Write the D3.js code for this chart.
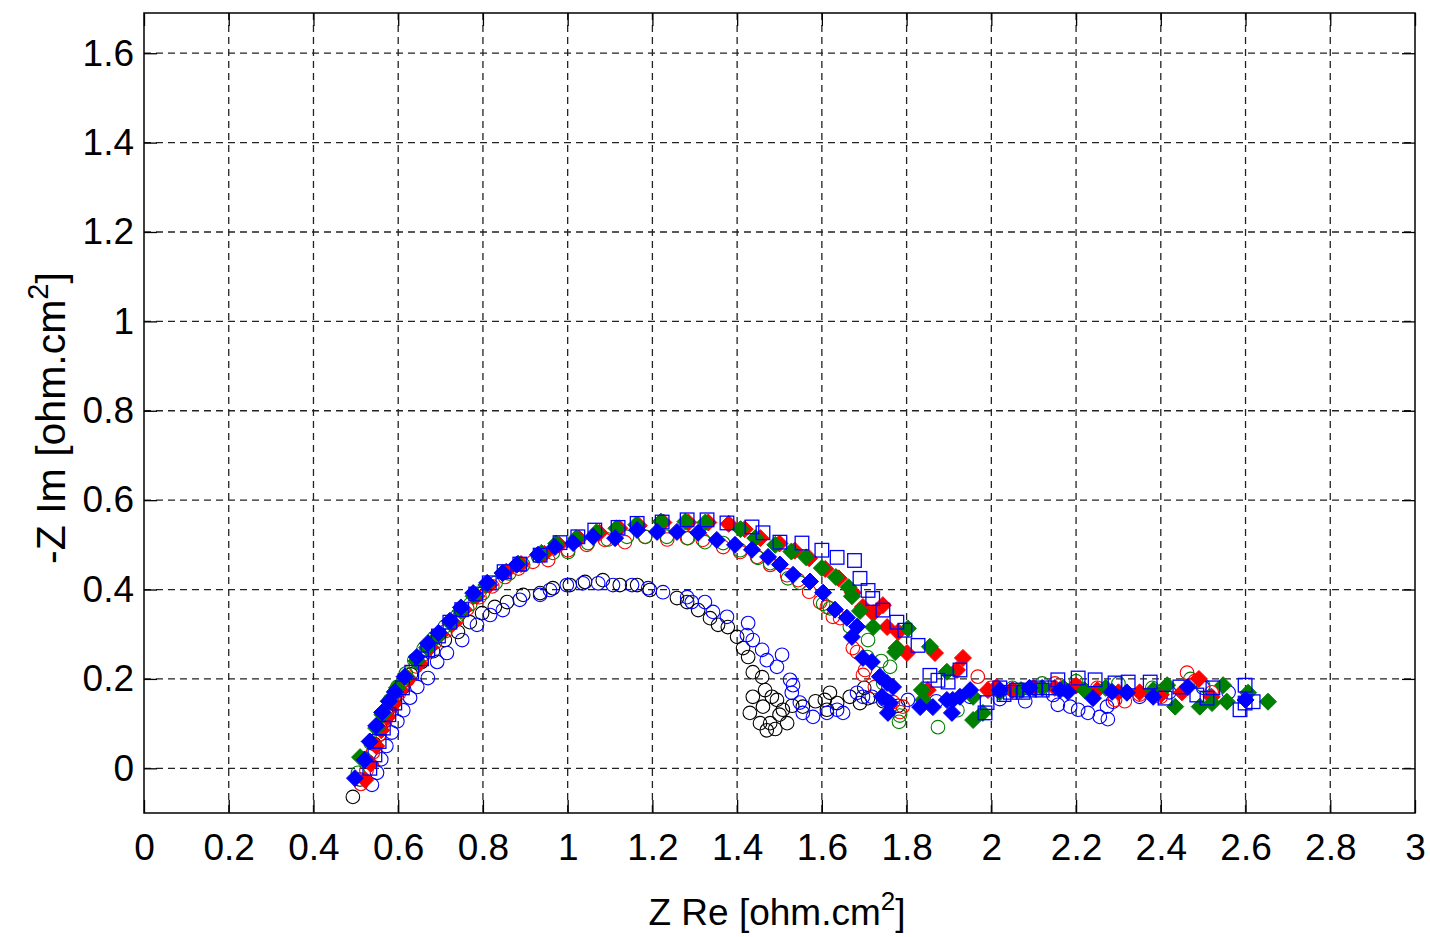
<!DOCTYPE html>
<html>
<head>
<meta charset="utf-8">
<script src="https://cdn.jsdelivr.net/npm/d3@7"></script>
<style>
  body { margin: 0; background: #fff; }
  text { font-family: "Liberation Sans", Arial, sans-serif; fill: #000; }
</style>
</head>
<body>
<script>
// axis ticks
var xTicks = [0, 0.2, 0.4, 0.6, 0.8, 1, 1.2, 1.4, 1.6, 1.8, 2, 2.2, 2.4, 2.6, 2.8, 3];
var yTicks = [0, 0.2, 0.4, 0.6, 0.8, 1, 1.2, 1.4, 1.6];

// series, [Z Re, -Z Im] in ohm.cm2
var blackCircles = [[0.493,-0.064],[0.510,-0.025],[0.528,0.015],[0.543,0.055],[0.558,0.090],[0.573,0.120],[0.590,0.150],[0.610,0.180],[0.630,0.210],[0.655,0.238],[0.682,0.262],[0.710,0.287],[0.741,0.305],[0.769,0.327],[0.798,0.347],[0.828,0.361],[0.857,0.372],[0.895,0.388],[0.935,0.392],[0.965,0.403],[1.005,0.410],[1.041,0.417],[1.083,0.421],[1.123,0.410],[1.164,0.410],[1.194,0.399],[1.258,0.381],[1.282,0.372],[1.308,0.354],[1.336,0.336],[1.355,0.321],[1.378,0.316],[1.400,0.294],[1.414,0.269],[1.426,0.249],[1.437,0.215],[1.459,0.204],[1.437,0.160],[1.430,0.124],[1.461,0.138],[1.454,0.101],[1.478,0.101],[1.482,0.160],[1.494,0.153],[1.508,0.131],[1.518,0.101],[1.466,0.175],[1.470,0.085],[1.490,0.088],[1.500,0.120],[1.530,0.140],[1.555,0.138],[1.585,0.150],[1.607,0.153],[1.619,0.169],[1.636,0.146],[1.612,0.131],[1.666,0.160],[1.690,0.146],[1.709,0.157],[1.700,0.180],[1.745,0.150],[1.780,0.140]];

var blueCircles = [[0.538,-0.037],[0.550,-0.010],[0.560,0.020],[0.572,0.050],[0.585,0.080],[0.598,0.105],[0.612,0.130],[0.628,0.158],[0.645,0.182],[0.670,0.202],[0.692,0.238],[0.715,0.258],[0.751,0.287],[0.786,0.321],[0.817,0.343],[0.847,0.354],[0.887,0.377],[0.935,0.388],[0.958,0.399],[0.998,0.410],[1.036,0.414],[1.072,0.414],[1.107,0.410],[1.152,0.410],[1.190,0.403],[1.225,0.394],[1.282,0.383],[1.293,0.372],[1.324,0.372],[1.343,0.350],[1.376,0.339],[1.426,0.325],[1.423,0.298],[1.437,0.287],[1.459,0.265],[1.470,0.242],[1.506,0.254],[1.494,0.227],[1.525,0.198],[1.532,0.186],[1.529,0.169],[1.548,0.147],[1.555,0.124],[1.579,0.115],[1.612,0.124],[1.636,0.131],[1.650,0.124],[1.683,0.169],[1.697,0.160],[1.718,0.160],[1.749,0.153],[1.803,0.153],[1.870,0.150],[1.950,0.160],[2.020,0.155],[2.080,0.150],[2.146,0.164],[2.157,0.142],[2.186,0.138],[2.205,0.131],[2.228,0.124],[2.256,0.115],[2.275,0.110],[2.273,0.138],[2.287,0.149],[2.350,0.160],[2.420,0.170],[2.500,0.180],[2.560,0.170]];

var redCircles = [[0.512,-0.035],[0.525,-0.005],[0.540,0.035],[0.555,0.075],[0.570,0.108],[0.585,0.138],[0.602,0.168],[0.622,0.198],[0.642,0.228],[0.663,0.256],[0.687,0.282],[0.712,0.307],[0.737,0.332],[0.763,0.357],[0.792,0.383],[0.822,0.407],[0.852,0.428],[0.884,0.447],[0.918,0.462],[0.954,0.466],[1.001,0.488],[1.045,0.500],[1.088,0.511],[1.135,0.506],[1.183,0.518],[1.235,0.512],[1.282,0.515],[1.319,0.511],[1.367,0.495],[1.407,0.484],[1.447,0.473],[1.478,0.455],[1.518,0.432],[1.544,0.421],[1.570,0.395],[1.596,0.372],[1.612,0.361],[1.626,0.339],[1.643,0.336],[1.673,0.269],[1.683,0.260],[1.702,0.220],[1.697,0.209],[1.725,0.182],[1.768,0.148],[1.784,0.126],[1.791,0.138],[1.968,0.205],[2.000,0.180],[2.050,0.175],[2.100,0.180],[2.150,0.190],[2.200,0.185],[2.250,0.180],[2.292,0.153],[2.315,0.150],[2.350,0.165],[2.400,0.160],[2.462,0.214],[2.480,0.195],[2.520,0.170]];

var greenCircles = [[0.505,-0.010],[0.520,0.022],[0.535,0.057],[0.550,0.092],[0.565,0.122],[0.580,0.152],[0.598,0.182],[0.618,0.212],[0.638,0.242],[0.660,0.267],[0.685,0.292],[0.710,0.317],[0.740,0.342],[0.770,0.367],[0.800,0.392],[0.830,0.415],[0.862,0.436],[0.895,0.455],[0.930,0.475],[0.965,0.482],[1.001,0.484],[1.048,0.504],[1.095,0.512],[1.140,0.518],[1.183,0.518],[1.234,0.518],[1.284,0.515],[1.324,0.506],[1.367,0.504],[1.407,0.488],[1.449,0.471],[1.478,0.459],[1.520,0.425],[1.548,0.415],[1.603,0.368],[1.619,0.358],[1.666,0.317],[1.709,0.287],[1.707,0.249],[1.740,0.240],[1.761,0.227],[1.745,0.190],[1.782,0.104],[1.784,0.118],[1.874,0.092],[1.920,0.130],[2.050,0.180],[2.120,0.190],[2.200,0.195],[2.300,0.190],[2.380,0.180],[2.470,0.200],[2.500,0.185]];

var redDiamonds = [[0.522,-0.026],[0.535,0.010],[0.548,0.050],[0.560,0.085],[0.575,0.115],[0.590,0.145],[0.605,0.175],[0.625,0.200],[0.650,0.235],[0.675,0.270],[0.700,0.300],[0.730,0.325],[0.755,0.355],[0.785,0.385],[0.815,0.410],[0.855,0.440],[0.890,0.457],[0.945,0.480],[0.980,0.500],[1.027,0.514],[1.075,0.527],[1.122,0.537],[1.168,0.543],[1.226,0.550],[1.285,0.550],[1.332,0.550],[1.380,0.547],[1.418,0.535],[1.455,0.515],[1.500,0.503],[1.536,0.487],[1.570,0.470],[1.608,0.446],[1.640,0.425],[1.673,0.393],[1.697,0.361],[1.721,0.347],[1.744,0.365],[1.754,0.316],[1.780,0.305],[1.777,0.269],[1.801,0.258],[1.867,0.258],[1.933,0.247],[1.919,0.220],[1.850,0.175],[1.992,0.175],[2.013,0.182],[2.050,0.175],[2.100,0.180],[2.150,0.180],[2.200,0.185],[2.250,0.175],[2.300,0.170],[2.350,0.170],[2.400,0.165],[2.450,0.170],[2.490,0.200],[2.520,0.160]];

var greenDiamonds = [[0.510,0.025],[0.533,0.060],[0.548,0.090],[0.563,0.120],[0.578,0.150],[0.597,0.180],[0.618,0.205],[0.643,0.240],[0.668,0.270],[0.693,0.295],[0.723,0.325],[0.748,0.352],[0.778,0.385],[0.808,0.410],[0.846,0.437],[0.883,0.458],[0.938,0.482],[0.973,0.503],[1.020,0.515],[1.068,0.528],[1.115,0.537],[1.162,0.545],[1.220,0.552],[1.278,0.552],[1.325,0.550],[1.408,0.535],[1.443,0.515],[1.490,0.500],[1.528,0.485],[1.563,0.472],[1.600,0.448],[1.633,0.428],[1.663,0.405],[1.671,0.385],[1.690,0.352],[1.721,0.316],[1.773,0.260],[1.777,0.269],[1.803,0.313],[1.855,0.272],[1.836,0.175],[1.839,0.153],[1.895,0.216],[1.957,0.160],[1.957,0.108],[1.980,0.124],[2.020,0.170],[2.070,0.175],[2.120,0.180],[2.170,0.180],[2.220,0.175],[2.270,0.180],[2.320,0.170],[2.382,0.175],[2.415,0.186],[2.434,0.138],[2.492,0.138],[2.521,0.146],[2.547,0.186],[2.556,0.149],[2.606,0.169],[2.653,0.149]];

var blueDiamonds = [[0.498,-0.022],[0.521,0.019],[0.533,0.060],[0.548,0.095],[0.562,0.125],[0.578,0.150],[0.592,0.171],[0.615,0.205],[0.644,0.249],[0.670,0.280],[0.695,0.303],[0.722,0.330],[0.748,0.360],[0.777,0.392],[0.810,0.415],[0.847,0.437],[0.880,0.456],[0.930,0.478],[0.970,0.495],[1.013,0.504],[1.060,0.518],[1.112,0.515],[1.164,0.533],[1.211,0.529],[1.258,0.529],[1.308,0.527],[1.352,0.511],[1.395,0.500],[1.435,0.489],[1.473,0.473],[1.501,0.456],[1.532,0.433],[1.572,0.418],[1.603,0.393],[1.631,0.355],[1.659,0.337],[1.683,0.317],[1.671,0.294],[1.697,0.247],[1.718,0.238],[1.737,0.205],[1.754,0.191],[1.768,0.182],[1.742,0.160],[1.761,0.146],[1.756,0.124],[1.832,0.137],[1.862,0.137],[1.895,0.153],[1.909,0.153],[1.907,0.124],[1.926,0.160],[1.950,0.175],[2.020,0.175],[2.090,0.180],[2.162,0.175],[2.181,0.171],[2.240,0.157],[2.285,0.171],[2.320,0.169],[2.382,0.160],[2.464,0.182],[2.600,0.153]];

var blueSquares = [[0.533,0.000],[0.545,0.030],[0.555,0.060],[0.565,0.090],[0.578,0.120],[0.592,0.146],[0.610,0.180],[0.632,0.215],[0.655,0.245],[0.670,0.265],[0.695,0.296],[0.722,0.327],[0.750,0.355],[0.783,0.390],[0.815,0.415],[0.850,0.440],[0.887,0.457],[0.935,0.477],[0.982,0.505],[1.024,0.518],[1.064,0.533],[1.119,0.539],[1.164,0.548],[1.223,0.551],[1.282,0.556],[1.329,0.556],[1.376,0.549],[1.435,0.540],[1.461,0.527],[1.501,0.506],[1.553,0.504],[1.600,0.488],[1.636,0.472],[1.677,0.465],[1.690,0.425],[1.709,0.398],[1.720,0.380],[1.744,0.354],[1.777,0.327],[1.796,0.309],[1.827,0.275],[1.855,0.208],[1.874,0.197],[1.898,0.193],[1.926,0.220],[1.990,0.147],[1.985,0.124],[2.020,0.180],[2.030,0.165],[2.045,0.170],[2.060,0.175],[2.075,0.170],[2.090,0.175],[2.105,0.180],[2.120,0.175],[2.135,0.180],[2.157,0.198],[2.205,0.202],[2.245,0.198],[2.292,0.191],[2.323,0.193],[2.375,0.193],[2.410,0.157],[2.445,0.182],[2.485,0.164],[2.509,0.157],[2.523,0.180],[2.587,0.131],[2.599,0.186],[2.599,0.146],[2.618,0.149]];

var W = 1430, H = 937;
var pLeft = 144, pRight = 1415, pTop = 13, pBottom = 813;

var svg = d3.select("body").append("svg")
    .attr("width", W)
    .attr("height", H);

var x = d3.scaleLinear().domain([0, 3]).range([pLeft, pRight]);
var y = d3.scaleLinear().domain([-0.1, 1.69]).range([pBottom, pTop]);
var fmt = d3.format("~g");

// dashed grid
svg.append("g").selectAll("line")
    .data(xTicks.filter(function(d) { return d > 0 && d < 3; }))
    .enter().append("line")
    .attr("x1", function(d) { return x(d); })
    .attr("x2", function(d) { return x(d); })
    .attr("y1", pTop).attr("y2", pBottom)
    .attr("stroke", "#222").attr("stroke-width", 1.3)
    .attr("stroke-dasharray", "7,5");

svg.append("g").selectAll("line")
    .data(yTicks)
    .enter().append("line")
    .attr("y1", function(d) { return y(d); })
    .attr("y2", function(d) { return y(d); })
    .attr("x1", pLeft).attr("x2", pRight)
    .attr("stroke", "#222").attr("stroke-width", 1.3)
    .attr("stroke-dasharray", "7,5");

// markers
function drawCircles(data, color) {
    svg.append("g").selectAll("circle")
        .data(data)
        .enter().append("circle")
        .attr("cx", function(d) { return x(d[0]); })
        .attr("cy", function(d) { return y(d[1]); })
        .attr("r", 6.8)
        .attr("fill", "none")
        .attr("stroke", color)
        .attr("stroke-width", 1.1);
}

function drawDiamonds(data, color) {
    var s = 8.5;
    svg.append("g").selectAll("path")
        .data(data)
        .enter().append("path")
        .attr("d", "M0," + (-s) + "L" + s + ",0L0," + s + "L" + (-s) + ",0Z")
        .attr("transform", function(d) { return "translate(" + x(d[0]) + "," + y(d[1]) + ")"; })
        .attr("fill", color)
        .attr("stroke", color)
        .attr("stroke-width", 1);
}

function drawSquares(data, color) {
    var h = 6.8;
    svg.append("g").selectAll("rect")
        .data(data)
        .enter().append("rect")
        .attr("x", function(d) { return x(d[0]) - h; })
        .attr("y", function(d) { return y(d[1]) - h; })
        .attr("width", 2 * h).attr("height", 2 * h)
        .attr("fill", "none")
        .attr("stroke", color)
        .attr("stroke-width", 1.3);
}

drawCircles(blackCircles, "#000000");
drawCircles(blueCircles, "#0000ff");
drawCircles(redCircles, "#ff0000");
drawCircles(greenCircles, "#008000");
drawDiamonds(redDiamonds, "#ff0000");
drawDiamonds(greenDiamonds, "#008000");
drawDiamonds(blueDiamonds, "#0000ff");
drawSquares(blueSquares, "#0000ff");

// axes with inward ticks
var tick = 13;
var gx = svg.append("g").attr("transform", "translate(0," + pBottom + ")")
    .call(d3.axisBottom(x).tickValues(xTicks).tickFormat(fmt)
        .tickSizeInner(-tick).tickSizeOuter(0).tickPadding(21));
var gxt = svg.append("g").attr("transform", "translate(0," + pTop + ")")
    .call(d3.axisTop(x).tickValues(xTicks).tickFormat("")
        .tickSizeInner(-tick).tickSizeOuter(0));
var gy = svg.append("g").attr("transform", "translate(" + pLeft + ",0)")
    .call(d3.axisLeft(y).tickValues(yTicks).tickFormat(fmt)
        .tickSizeInner(-tick).tickSizeOuter(0).tickPadding(10));
var gyr = svg.append("g").attr("transform", "translate(" + pRight + ",0)")
    .call(d3.axisRight(y).tickValues(yTicks).tickFormat("")
        .tickSizeInner(-tick).tickSizeOuter(0));

[gx, gxt, gy, gyr].forEach(function(g) {
    g.select(".domain").remove();
    g.selectAll(".tick line").attr("stroke", "#000").attr("stroke-width", 1.3);
    g.selectAll("text")
        .style("font-family", "'Liberation Sans', Arial, sans-serif")
        .style("font-size", "37px")
        .attr("fill", "#000");
});

// frame
svg.append("rect")
    .attr("x", pLeft).attr("y", pTop)
    .attr("width", pRight - pLeft).attr("height", pBottom - pTop)
    .attr("fill", "none")
    .attr("stroke", "#000")
    .attr("stroke-width", 1.5);

// axis titles
var xl = svg.append("text")
    .attr("x", 777).attr("y", 925)
    .attr("text-anchor", "middle")
    .style("font-size", "37px");
xl.append("tspan").text("Z Re [ohm.cm");
xl.append("tspan").attr("dy", -15).style("font-size", "26px").text("2");
xl.append("tspan").attr("dy", 15).text("]");

var yl = svg.append("text")
    .attr("transform", "translate(65,418) rotate(-90)")
    .attr("text-anchor", "middle")
    .style("font-size", "41px");
yl.append("tspan").text("-Z Im [ohm.cm");
yl.append("tspan").attr("dy", -17).style("font-size", "29px").text("2");
yl.append("tspan").attr("dy", 17).text("]");
</script>
</body>
</html>
